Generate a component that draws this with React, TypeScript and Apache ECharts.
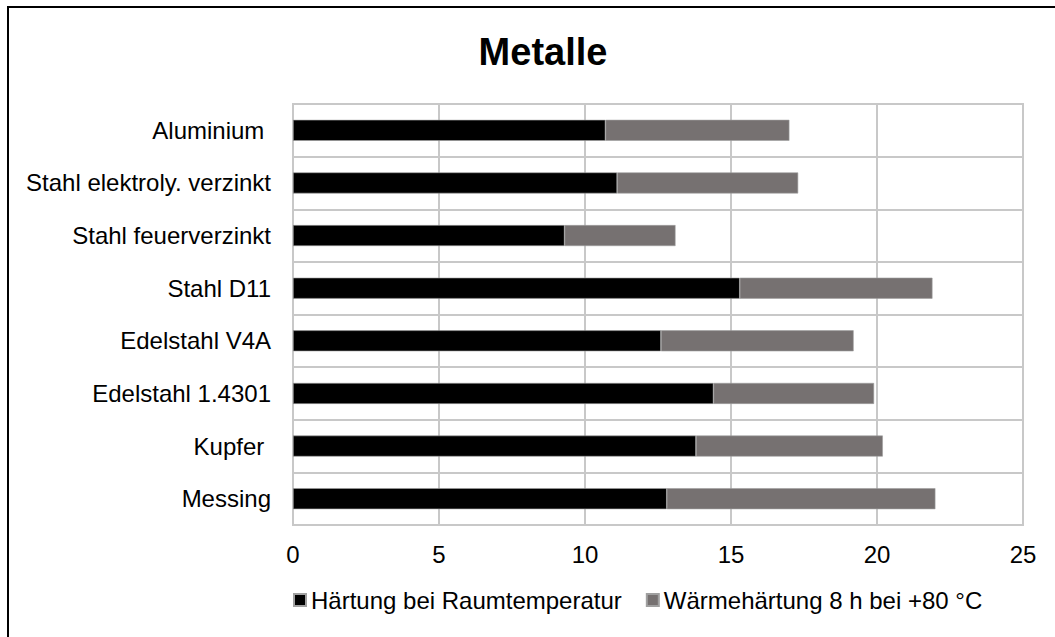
import React, { useEffect, useRef } from "react";
import * as echarts from "echarts";

const categories = [
  "Aluminium ",
  "Stahl elektroly. verzinkt",
  "Stahl feuerverzinkt",
  "Stahl D11",
  "Edelstahl V4A",
  "Edelstahl 1.4301",
  "Kupfer ",
  "Messing",
];
const haertungRaum = [10.7, 11.1, 9.3, 15.3, 12.6, 14.4, 13.8, 12.8];
const waermehaertung = [6.3, 6.2, 3.8, 6.6, 6.6, 5.5, 6.4, 9.2];
const seriesNames = ["Härtung bei Raumtemperatur", "Wärmehärtung 8 h bei +80 °C"];
const titleText = "Metalle";

const FONT = "'Liberation Sans', Arial, sans-serif";

export default function App() {
  const ref = useRef<HTMLDivElement>(null);
  useEffect(() => {
    if (!ref.current) return;
    const chart = echarts.init(ref.current, null, { renderer: "svg" });
    chart.setOption({
      animation: false,
      backgroundColor: "#ffffff",
      textStyle: { fontFamily: FONT },
      title: {
        text: titleText,
        left: 538,
        textAlign: "center",
        top: 28,
        textStyle: { fontFamily: FONT, fontSize: 38, fontWeight: "bold", color: "#000" },
      },
      legend: {
        left: 293,
        top: 588,
        padding: 0,
        icon: "rect",
        itemWidth: 12,
        itemHeight: 12,
        itemGap: 24,
        textStyle: { fontFamily: FONT, fontSize: 24, color: "#000" },
        data: seriesNames,
      },
      grid: {
        left: 293,
        right: 32,
        top: 104,
        bottom: 112,
        show: true,
        borderColor: "#c8c8c8",
        borderWidth: 2,
        containLabel: false,
      },
      xAxis: {
        type: "value",
        min: 0,
        max: 25,
        interval: 5,
        axisLine: { show: false },
        axisTick: { show: false },
        axisLabel: { fontFamily: FONT, fontSize: 24, color: "#000", margin: 17 },
        splitLine: { show: true, lineStyle: { color: "#c8c8c8", width: 2 } },
      },
      yAxis: {
        type: "category",
        inverse: true,
        data: categories,
        axisLine: { show: false },
        axisTick: { show: false },
        axisLabel: { fontFamily: FONT, fontSize: 24, color: "#000", margin: 22 },
        splitLine: { show: true, lineStyle: { color: "#c8c8c8", width: 2 } },
      },
      series: [
        {
          name: seriesNames[0],
          type: "bar",
          stack: "total",
          barWidth: 21,
          data: haertungRaum,
          itemStyle: { color: "#000000", borderColor: "#a0a0a0", borderWidth: 0.6 },
        },
        {
          name: seriesNames[1],
          type: "bar",
          stack: "total",
          barWidth: 21,
          data: waermehaertung,
          itemStyle: { color: "#767171", borderColor: "#a0a0a0", borderWidth: 0.6 },
        },
      ],
      graphic: [
        {
          type: "line",
          shape: { x1: 7, y1: 7, x2: 1055, y2: 7 },
          style: { stroke: "#000", lineWidth: 2 },
        },
        {
          type: "line",
          shape: { x1: 8, y1: 6, x2: 8, y2: 637 },
          style: { stroke: "#000", lineWidth: 2 },
        },
      ],
    });
    return () => chart.dispose();
  }, []);
  return (
    <div
      ref={ref}
      style={{ position: "absolute", left: 0, top: 0, width: 1055, height: 637 }}
    />
  );
}
